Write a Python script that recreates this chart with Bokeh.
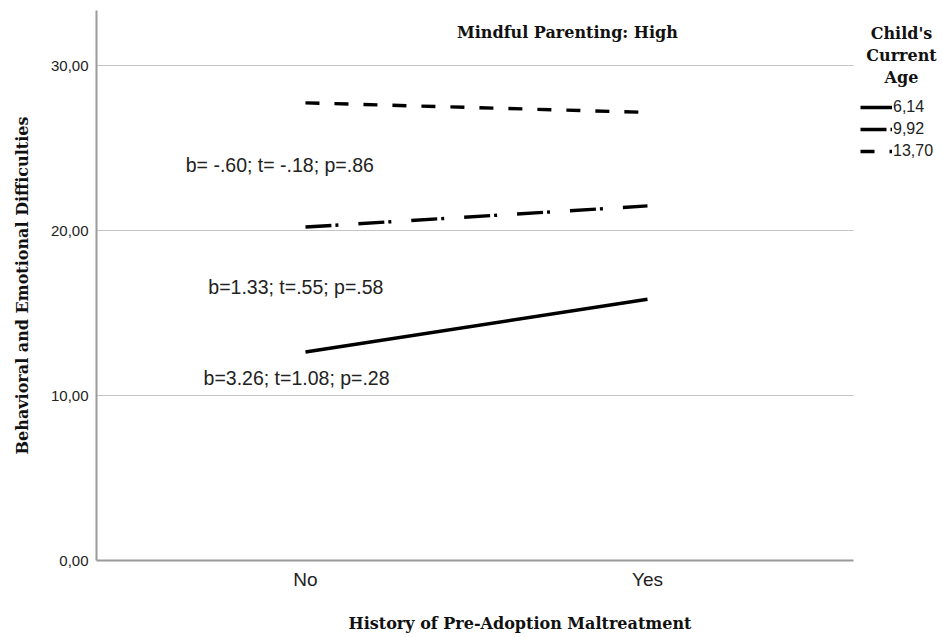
from bokeh.plotting import figure
from bokeh.models import (Range1d, FixedTicker, Legend, LegendItem, Label, BoxAnnotation)
from bokeh.embed import file_html
from bokeh.resources import INLINE

# ---- data ----
x_positions = [1, 2]
x_tick_labels = ["No", "Yes"]
y_ticks = [0, 10, 20, 30]
y_tick_labels = ["0,00", "10,00", "20,00", "30,00"]

age_labels = ["6,14", "9,92", "13,70"]
age_614 = [12.64, 15.84]
age_992 = [20.22, 21.50]
age_1370 = [27.75, 27.17]

annot_texts = ["b= -.60; t= -.18; p=.86", "b=1.33; t=.55; p=.58", "b=3.26; t=1.08; p=.28"]
annot_x = [0.925, 0.972, 0.974]
annot_y = [24.0, 16.6, 11.05]

title_text = "Mindful Parenting: High"
legend_title_lines = ["Child's", "Current", "Age"]
x_label = "History of Pre-Adoption Maltreatment"
y_label = "Behavioral and Emotional Difficulties"

SERIF = "DejaVu Serif"
SANS = "Liberation Sans"

X_START, X_END, AXIS_END = 0.389, 2.8655, 2.602
Y_END = 33.35

p = figure(width=943, height=637, output_backend="svg", toolbar_location=None,
           x_range=Range1d(X_START, X_END), y_range=Range1d(0, Y_END),
           min_border_left=96, min_border_right=0, min_border_top=10, min_border_bottom=77)
p.outline_line_color = None
p.background_fill_color = "white"
p.border_fill_color = "white"

# axes
p.xaxis.ticker = FixedTicker(ticks=x_positions)
p.xaxis.major_label_overrides = {k: v for k, v in zip(x_positions, x_tick_labels)}
p.xaxis.bounds = (X_START, AXIS_END)
p.yaxis.ticker = FixedTicker(ticks=y_ticks)
p.yaxis.major_label_overrides = {k: v for k, v in zip(y_ticks, y_tick_labels)}
for ax in (p.xaxis, p.yaxis):
    ax.major_tick_out = 0
    ax.major_tick_in = 0
    ax.minor_tick_out = 0
    ax.minor_tick_in = 0
    ax.axis_line_color = "#9a9a9a"
    ax.axis_line_width = 2
    ax.major_label_text_font = SANS
    ax.major_label_text_color = "#222222"
    ax.axis_label_text_font = SERIF
    ax.axis_label_text_font_style = "bold"
    ax.axis_label_text_font_size = "16px"
    ax.axis_label_text_color = "#111111"
p.xaxis.major_label_text_font_size = "19px"
p.yaxis.major_label_text_font_size = "15px"
p.xaxis.major_label_standoff = 8
p.yaxis.major_label_standoff = 8
p.xaxis.axis_label = x_label
p.yaxis.axis_label = y_label
p.xaxis.axis_label_standoff = 21
p.yaxis.axis_label_standoff = 16

p.xgrid.grid_line_color = None
p.ygrid.ticker = FixedTicker(ticks=y_ticks)
p.ygrid.grid_line_color = "#c4c4c4"
p.ygrid.grid_line_width = 1
try:
    p.ygrid.cross_bounds = (X_START, AXIS_END)
    need_mask = False
except Exception:
    need_mask = True

# lines
r1 = p.line(x_positions, age_614, line_color="black", line_width=3.4)
r2 = p.line(x_positions, age_992, line_color="black", line_width=3.4, line_dash="26 4 3 20")
r3 = p.line(x_positions, age_1370, line_color="black", line_width=3.4, line_dash="14 15")

if need_mask:
    p.add_layout(BoxAnnotation(left=AXIS_END, fill_color="white", fill_alpha=1, line_color=None))

# annotations
for t, xx, yy in zip(annot_texts, annot_x, annot_y):
    p.add_layout(Label(x=xx, y=yy, text=t, text_align="center", text_baseline="middle",
                       text_font=SANS, text_font_size="19.5px", text_color="#222222"))

p.add_layout(Label(x=1.766, y=32.0, text=title_text, text_align="center", text_baseline="middle",
                   text_font=SERIF, text_font_style="bold", text_font_size="16px", text_color="#111111"))

for i, line in enumerate(legend_title_lines):
    p.add_layout(Label(x=2.7427, y=31.98 - i * 1.36, text=line, text_align="center", text_baseline="middle",
                       text_font=SERIF, text_font_style="bold", text_font_size="16px", text_color="#111111"))

legend = Legend(items=[LegendItem(label=lab, renderers=[r]) for lab, r in zip(age_labels, [r1, r2, r3])],
                location=(764, 399))
legend.label_text_font = SANS
legend.label_text_font_size = "16px"
legend.label_text_color = "#222222"
legend.glyph_width = 32
legend.glyph_height = 20
legend.label_height = 20
legend.label_standoff = 1
legend.spacing = 2
legend.padding = 0
legend.margin = 0
legend.border_line_color = None
legend.background_fill_alpha = 0
p.add_layout(legend)

open("out.html", "w").write(file_html(p, INLINE))
